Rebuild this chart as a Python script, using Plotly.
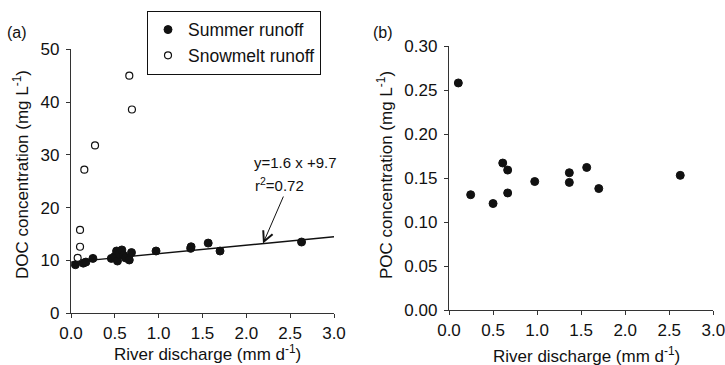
import plotly.graph_objects as go

# ---- data ----
doc_summer_x = [0.05, 0.14, 0.17, 0.25, 0.46, 0.50, 0.52, 0.53, 0.55, 0.58, 0.60, 0.62, 0.665, 0.69,
                0.97, 1.365, 1.37, 1.565, 1.70, 2.63]
doc_summer_y = [9.2, 9.5, 9.7, 10.4, 10.4, 10.8, 11.8, 9.9, 11.2, 12.0, 11.0, 10.5, 10.1, 11.5,
                11.8, 12.3, 12.6, 13.3, 11.8, 13.5]
doc_snow_x = [0.076, 0.103, 0.103, 0.152, 0.274, 0.665, 0.695]
doc_snow_y = [10.5, 12.6, 15.8, 27.2, 31.8, 45.0, 38.6]

reg_slope = 1.6
reg_intercept = 9.7
reg_x = [0.0, 3.0]

poc_x = [0.106, 0.246, 0.50, 0.61, 0.666, 0.666, 0.973, 1.366, 1.366, 1.563, 1.70, 2.625]
poc_y = [0.258, 0.131, 0.121, 0.167, 0.159, 0.133, 0.146, 0.156, 0.145, 0.162, 0.138, 0.153]

x_ticks = [0.0, 0.5, 1.0, 1.5, 2.0, 2.5, 3.0]
doc_ticks = [0, 10, 20, 30, 40, 50]
poc_ticks = [0.00, 0.05, 0.10, 0.15, 0.20, 0.25, 0.30]

FONT = "Liberation Sans, Arial, sans-serif"
INK = "#111111"
AX = "#333333"

fig = go.Figure()

fig.add_trace(go.Scatter(
    x=reg_x, y=[reg_slope * v + reg_intercept for v in reg_x], mode="lines",
    line=dict(color=INK, width=1.4), showlegend=False, hoverinfo="skip",
    xaxis="x", yaxis="y"))

fig.add_trace(go.Scatter(
    x=doc_summer_x, y=doc_summer_y, mode="markers", name="Summer runoff",
    marker=dict(size=8, color=INK, line=dict(color=INK, width=1)),
    xaxis="x", yaxis="y", cliponaxis=False))

fig.add_trace(go.Scatter(
    x=doc_snow_x, y=doc_snow_y, mode="markers", name="Snowmelt runoff",
    marker=dict(size=7, color="white", line=dict(color=INK, width=1.2)),
    xaxis="x", yaxis="y", cliponaxis=False))

fig.add_trace(go.Scatter(
    x=poc_x, y=poc_y, mode="markers", showlegend=False,
    marker=dict(size=8, color=INK, line=dict(color=INK, width=1)),
    xaxis="x2", yaxis="y2", cliponaxis=False))

H = 365.0
W = 725.0

axis_common = dict(
    showline=True, linecolor=AX, linewidth=1.3, ticks="outside", ticklen=4,
    tickwidth=1.2, tickcolor=AX, showgrid=False, zeroline=False, automargin=False,
    tickfont=dict(size=17, family=FONT, color=INK), mirror=False,
    ticklabeloverflow="allow",
)

fig.update_layout(
    template="none",
    width=725, height=365,
    margin=dict(l=0, r=0, t=0, b=0, pad=0),
    paper_bgcolor="white", plot_bgcolor="white",
    font=dict(family=FONT, color=INK, size=17),
    xaxis=dict(domain=[71 / W, 334 / W], range=[0, 3], tickvals=x_ticks,
               tickformat=".1f", anchor="y", **axis_common),
    yaxis=dict(domain=[(H - 313.3) / H, (H - 49.3) / H], range=[0, 50],
               tickvals=doc_ticks, anchor="x", ticklabelstandoff=3, **axis_common),
    xaxis2=dict(domain=[449 / W, 713.3 / W], range=[0, 3], tickvals=x_ticks,
                tickformat=".1f", anchor="y2", **axis_common),
    yaxis2=dict(domain=[(H - 310) / H, (H - 46) / H], range=[0, 0.30],
                tickvals=poc_ticks, tickformat=".2f", anchor="x2", ticklabelstandoff=3,
                **axis_common),
    legend=dict(x=147 / W, y=1 - 10.7 / H, xanchor="left", yanchor="top",
                bordercolor=INK, borderwidth=1, bgcolor="white",
                font=dict(size=17.5, family=FONT, color=INK),
                tracegroupgap=0, itemwidth=30),
    showlegend=True,
)

def lab(text, px, py, size=17, angle=0, xa="center", ya="middle"):
    return dict(text=text, x=px / W, y=1 - py / H, xref="paper", yref="paper",
                xanchor=xa, yanchor=ya, showarrow=False, textangle=angle,
                font=dict(size=size))

ann = [
    lab("(a)", 17, 33, 16),
    lab("(b)", 383, 33, 16),
    lab("DOC concentration (mg L<sup>-1</sup>)", 21, 175, 17, -90),
    lab("POC concentration (mg L<sup>-1</sup>)", 385, 175, 17, -90),
    lab("River discharge (mm d<sup>-1</sup>)", 207.5, 353, 17),
    lab("River discharge (mm d<sup>-1</sup>)", 586, 355, 17),
    dict(text="y=1.6 x +9.7", x=2.07, y=28.5, xref="x", yref="y", xanchor="left",
         yanchor="middle", showarrow=False, font=dict(size=15)),
    dict(text="r<sup>2</sup>=0.72", x=2.08, y=24.4, xref="x", yref="y", xanchor="left",
         yanchor="middle", showarrow=False, font=dict(size=15)),
    dict(text="", x=2.19, y=reg_slope * 2.19 + reg_intercept, ax=2.43, ay=22.4,
         xref="x", yref="y", axref="x", ayref="y", showarrow=True,
         arrowhead=5, arrowsize=2, arrowwidth=1, arrowcolor=INK),
]
fig.update_layout(annotations=ann)

fig.write_html("out.html")
